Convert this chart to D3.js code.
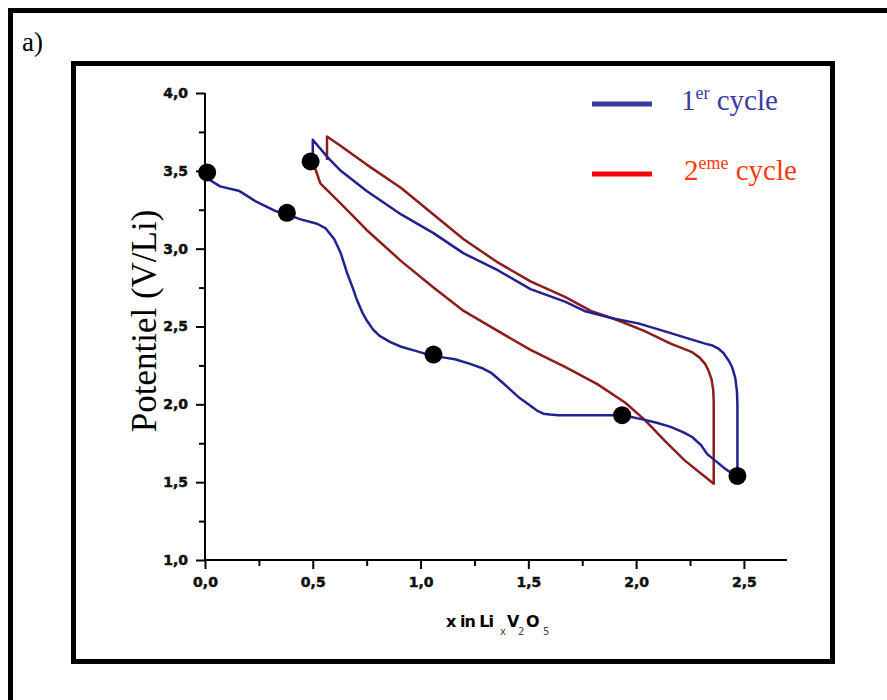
<!DOCTYPE html>
<html lang="fr">
<head>
<meta charset="UTF-8">
<title>Potentiel vs x in LixV2O5</title>
<script src="https://d3js.org/d3.v7.min.js"></script>
<style>
    body { margin: 0; background: #fff; }
    svg { display: block; }
    .tick-label { font-family: "DejaVu Sans", sans-serif; font-weight: bold; font-size: 14px; }
    .serif { font-family: "Liberation Serif", "Times New Roman", serif; }
</style>
</head>
<body>
<div id="chart"></div>
<script>
    // 1st cycle: discharge then charge (x in LixV2O5, potential V/Li)
    const cycle1X = [0.00, 0.07, 0.16, 0.24, 0.33, 0.38, 0.44, 0.52, 0.56, 0.60, 0.63, 0.66, 0.685, 0.705, 0.73, 0.75, 0.78,
        0.81, 0.86, 0.91, 0.985, 1.06, 1.11, 1.16, 1.23, 1.29, 1.33, 1.38, 1.42, 1.46, 1.50, 1.54, 1.57, 1.60, 1.64, 1.85,
        1.94, 2.04, 2.10, 2.16, 2.22, 2.26, 2.30, 2.33, 2.37, 2.41, 2.44, 2.47,
        2.47, 2.468, 2.46, 2.445, 2.43, 2.405, 2.38, 2.35, 2.32, 2.225, 2.13, 2.01, 1.90, 1.76, 1.67, 1.51, 1.36,
        1.20, 1.06, 0.91, 0.75, 0.63, 0.57, 0.50, 0.50];
    const cycle1V = [3.46, 3.40, 3.37, 3.30, 3.24, 3.22, 3.19, 3.16, 3.13, 3.06, 2.97, 2.84, 2.75, 2.67, 2.59, 2.54, 2.48,
        2.44, 2.40, 2.37, 2.34, 2.31, 2.30, 2.29, 2.26, 2.23, 2.20, 2.14, 2.09, 2.04, 2.00, 1.96, 1.94, 1.935, 1.93, 1.93,
        1.93, 1.90, 1.88, 1.855, 1.82, 1.79, 1.74, 1.68, 1.635, 1.59, 1.56, 1.54,
        2.00, 2.08, 2.17, 2.24, 2.28, 2.33, 2.36, 2.38, 2.39, 2.43, 2.47, 2.52, 2.55, 2.60, 2.66, 2.74, 2.86,
        2.97, 3.10, 3.22, 3.37, 3.50, 3.585, 3.70, 3.58];

    // 2nd cycle
    const cycle2X = [0.51, 0.535, 0.63, 0.75, 0.91, 1.06, 1.20, 1.36, 1.51, 1.67, 1.82, 1.95, 2.04, 2.13, 2.225, 2.36,
        2.36, 2.358, 2.35, 2.335, 2.32, 2.295, 2.26, 2.16, 2.04, 1.915, 1.79, 1.67, 1.51, 1.36, 1.20, 1.06, 0.91, 0.75,
        0.63, 0.566, 0.566];
    const cycle2V = [3.52, 3.42, 3.29, 3.12, 2.92, 2.75, 2.60, 2.47, 2.35, 2.24, 2.13, 2.01, 1.90, 1.77, 1.64, 1.49,
        2.01, 2.09, 2.16, 2.22, 2.26, 2.30, 2.335, 2.39, 2.47, 2.54, 2.60, 2.69, 2.79, 2.91, 3.06, 3.22, 3.39, 3.54,
        3.66, 3.72, 3.57];

    // marked compositions
    const markerX = [0.01, 0.38, 0.49, 1.06, 1.935, 2.47];
    const markerV = [3.49, 3.23, 3.56, 2.32, 1.93, 1.54];

    const xTicks = [0, 0.5, 1.0, 1.5, 2.0, 2.5];
    const xMinorTicks = [0.25, 0.75, 1.25, 1.75, 2.25];
    const yTicks = [1.0, 1.5, 2.0, 2.5, 3.0, 3.5, 4.0];
    const yMinorTicks = [1.25, 1.75, 2.25, 2.75, 3.25, 3.75];
    const legendLabels = [["1", "er", " cycle"], ["2", "eme", " cycle"]];

    const width = 887, height = 700;
    const fmt = d => d3.format(".1f")(d).replace(".", ",");

    const svg = d3.select('#chart').append('svg')
        .attr('width', width)
        .attr('height', height);

    svg.append('rect').attr('width', width).attr('height', height).attr('fill', '#fff');

    // outer frame (runs off the page on the right and bottom)
    svg.append('rect')
        .attr('x', 10.5).attr('y', 10.5)
        .attr('width', 900).attr('height', 720)
        .attr('fill', 'none').attr('stroke', '#000').attr('stroke-width', 5);

    svg.append('text').attr('class', 'serif')
        .attr('x', 22).attr('y', 51)
        .attr('font-size', 27)
        .text('a)');

    // inner frame
    svg.append('rect')
        .attr('x', 73.5).attr('y', 63.5)
        .attr('width', 759).attr('height', 598)
        .attr('fill', 'none').attr('stroke', '#000').attr('stroke-width', 5);

    const x = d3.scaleLinear().domain([0, 2.7]).range([205, 787]);
    const y = d3.scaleLinear().domain([1, 4]).range([560, 93]);

    // axes: major ticks labelled, minor ticks in between
    const xAxis = svg.append('g')
        .attr('transform', `translate(0,${y(1)})`)
        .call(d3.axisBottom(x).tickValues(xTicks).tickFormat(fmt).tickSize(9).tickPadding(8));
    svg.append('g')
        .attr('transform', `translate(0,${y(1)})`)
        .call(d3.axisBottom(x).tickValues(xMinorTicks).tickFormat('').tickSize(6))
        .call(g => g.select('.domain').remove());

    const yAxis = svg.append('g')
        .attr('transform', `translate(${x(0)},0)`)
        .call(d3.axisLeft(y).tickValues(yTicks).tickFormat(fmt).tickSize(9).tickPadding(8));
    svg.append('g')
        .attr('transform', `translate(${x(0)},0)`)
        .call(d3.axisLeft(y).tickValues(yMinorTicks).tickFormat('').tickSize(6))
        .call(g => g.select('.domain').remove());

    svg.selectAll('.domain').attr('stroke', '#000').attr('stroke-width', 2);
    svg.selectAll('.tick line').attr('stroke', '#000').attr('stroke-width', 2);
    svg.selectAll('.tick text').attr('class', 'tick-label')
        .attr('fill', '#111').attr('stroke', '#111').attr('stroke-width', 0.5);
    xAxis.select('.domain').attr('d', `M${x(0)},0H${x(2.7)}`);
    yAxis.select('.domain').attr('d', `M0,${y(4)}V${y(1)}`);

    // curves
    const line = d3.line()
        .x(d => x(d[0]))
        .y(d => y(d[1]));

    svg.append('path')
        .datum(d3.zip(cycle2X, cycle2V))
        .attr('fill', 'none')
        .attr('stroke', '#8e1c1c')
        .attr('stroke-width', 2.5)
        .attr('stroke-linejoin', 'round')
        .attr('d', line);

    svg.append('path')
        .datum(d3.zip(cycle1X, cycle1V))
        .attr('fill', 'none')
        .attr('stroke', '#22228f')
        .attr('stroke-width', 2.5)
        .attr('stroke-linejoin', 'round')
        .attr('d', line);

    svg.append('g')
        .selectAll('circle')
        .data(d3.zip(markerX, markerV))
        .join('circle')
        .attr('cx', d => x(d[0]))
        .attr('cy', d => y(d[1]))
        .attr('r', 9)
        .attr('fill', '#000');

    // axis titles
    svg.append('text').attr('class', 'serif')
        .attr('transform', 'translate(156,321) rotate(-90)')
        .attr('text-anchor', 'middle')
        .attr('font-size', 35)
        .text('Potentiel (V/Li)');

    const xt = svg.append('text')
        .attr('font-family', '"DejaVu Sans", sans-serif')
        .attr('font-weight', 'bold')
        .attr('font-size', 16)
        .attr('y', 627);
    xt.append('tspan').attr('x', 446).attr('letter-spacing', -1).text('x in Li');
    xt.append('tspan').attr('x', 500).attr('dy', 8).attr('font-size', 10).attr('font-weight', 'normal').attr('fill', '#444').text('x');
    xt.append('tspan').attr('x', 507).attr('dy', -8).text('V');
    xt.append('tspan').attr('x', 518).attr('dy', 8).attr('font-size', 10).attr('font-weight', 'normal').attr('fill', '#444').text('2');
    xt.append('tspan').attr('x', 526).attr('dy', -8).text('O');
    xt.append('tspan').attr('x', 543).attr('dy', 8).attr('font-size', 10).attr('font-weight', 'normal').attr('fill', '#444').text('5');

    // legend
    const legendColors = ['#3b3b9e', '#ff0000'];
    const legendText = ['#3b3ba3', '#ff3a10'];
    const legendY = [104, 174];
    const legendTextX = [681, 684];
    legendLabels.forEach((lab, i) => {
        svg.append('line')
            .attr('x1', 592).attr('x2', 652)
            .attr('y1', legendY[i]).attr('y2', legendY[i])
            .attr('stroke', legendColors[i]).attr('stroke-width', 5);
        const t = svg.append('text').attr('class', 'serif')
            .attr('x', legendTextX[i]).attr('y', legendY[i] + 6)
            .attr('font-size', 29)
            .attr('fill', legendText[i]);
        t.append('tspan').text(lab[0]);
        t.append('tspan').attr('dy', -11).attr('font-size', 18).text(lab[1]);
        t.append('tspan').attr('dy', 11).text(lab[2]);
    });
</script>
</body>
</html>
